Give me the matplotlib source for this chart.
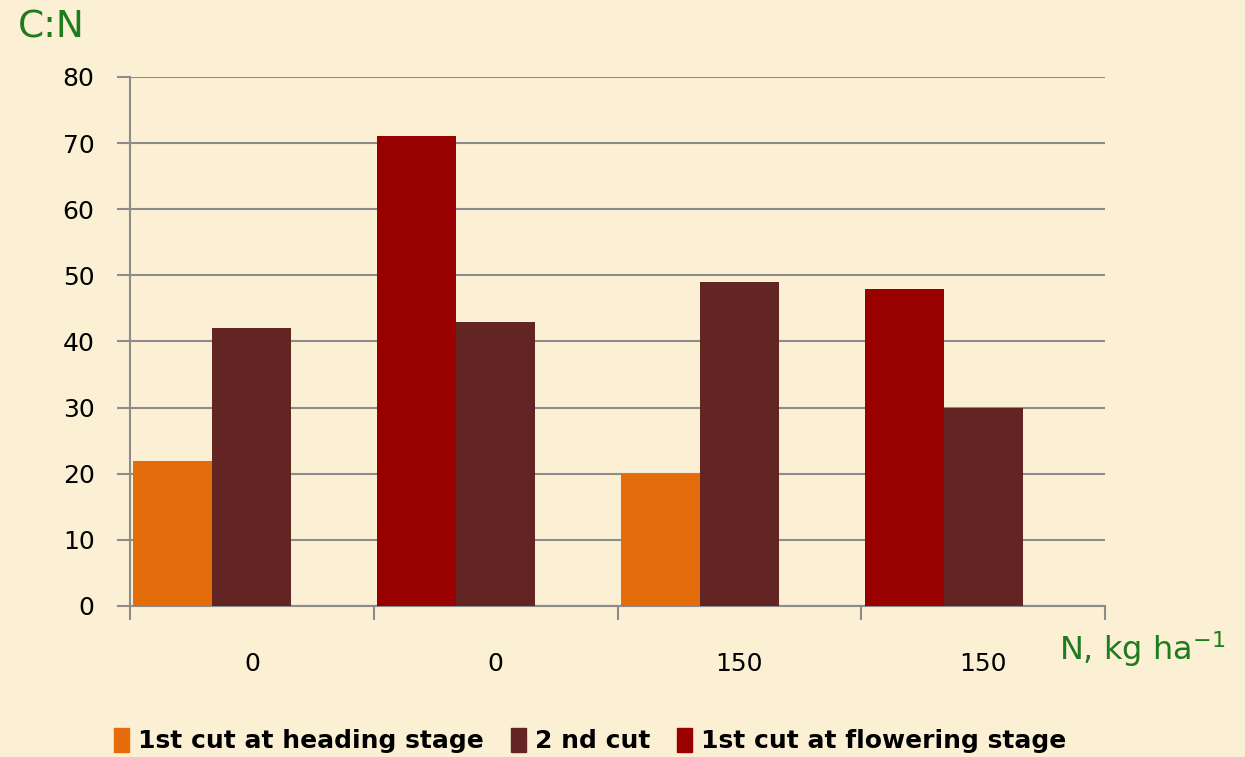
import matplotlib
matplotlib.use('Agg')
import matplotlib.pyplot as plt
import numpy as np
from matplotlib.patches import Patch

# data
categories = ['0', '0', '150', '150']
first_cut = [22, 71, 20, 48]          # left bar of each group
first_cut_kind = ['heading', 'flowering', 'heading', 'flowering']
second_cut = [42, 43, 49, 30]
y_ticks = [0, 10, 20, 30, 40, 50, 60, 70, 80]

c_heading = '#E46C0A'
c_second = '#632523'
c_flower = '#990000'
bg = '#FBF0D4'
green = '#1E7B1E'
grey = '#8C8C8C'

fig = plt.figure(figsize=(12.45, 7.57), dpi=100, facecolor=bg)
ax = fig.add_axes([0.1044, 0.1995, 0.7832, 0.6988])
ax.set_facecolor(bg)

x = np.arange(len(categories)) + 0.5
w = 0.324
left_colors = [c_heading if k == 'heading' else c_flower for k in first_cut_kind]
ax.bar(x - w, first_cut, width=w, color=left_colors, zorder=3)
ax.bar(x, second_cut, width=w, color=c_second, zorder=3)

ax.set_xlim(0, 4)
ax.set_ylim(0, 80)
ax.set_yticks(y_ticks)
ax.set_yticklabels([str(v) for v in y_ticks], fontsize=18)
ax.yaxis.grid(True, color=grey, linewidth=1.5, zorder=0)
ax.tick_params(axis='y', length=9.5, width=1.5, color=grey, pad=16)

ax.set_xticks([0, 1, 2, 3, 4])
ax.set_xticklabels([])
ax.set_xticks(x, minor=True)
ax.set_xticklabels(categories, minor=True, fontsize=18)
ax.tick_params(axis='x', which='major', length=10, width=1.5, color=grey)
ax.tick_params(axis='x', which='minor', length=0, pad=33)

for s in ['top', 'right']:
    ax.spines[s].set_visible(False)
for s in ['left', 'bottom']:
    ax.spines[s].set_color(grey)
    ax.spines[s].set_linewidth(1.5)

fig.text(0.014, 0.964, 'C:N', color=green, fontsize=27, va='center', ha='left')
fig.text(0.851, 0.128, 'N, kg ha$^{-1}$', color=green, fontsize=23, va='baseline', ha='left')

handles = [Patch(color=c_heading), Patch(color=c_second), Patch(color=c_flower)]
labels = ['1st cut at heading stage', '2 nd cut', '1st cut at flowering stage']
fig.legend(handles, labels, loc='center', bbox_to_anchor=(0.474, 0.022), ncol=3,
           frameon=False, prop={'family': 'DejaVu Sans Condensed', 'weight': 'bold', 'size': 18},
           handlelength=0.6, handleheight=1.1, handletextpad=0.35, columnspacing=1.1)

fig.savefig('out.png', dpi=100, facecolor=bg)
